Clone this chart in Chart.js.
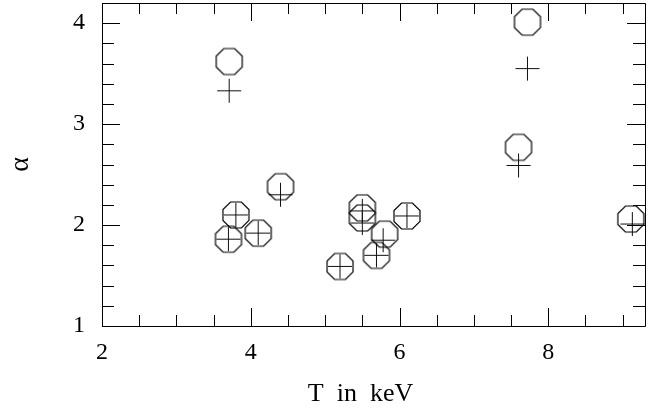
<!DOCTYPE html>
<html lang="en">
<head>
    <meta charset="UTF-8">
    <title>alpha vs T</title>
    <script src="https://cdn.jsdelivr.net/npm/chart.js"></script>
    <style>
        body {
            margin: 0;
            background: #fff;
        }
        canvas {
            display: block;
        }
    </style>
</head>
<body>
    <canvas id="alphaChart" width="654" height="412"></canvas>
    <script>
        // Values (T in keV, alpha)
        const octT     = [3.71, 7.72, 7.60, 4.40, 3.80, 3.70, 4.10, 5.20, 5.50, 5.50, 5.80, 5.69, 6.10, 9.11];
        const octAlpha = [3.62, 4.01, 2.77, 2.38, 2.10, 1.86, 1.92, 1.59, 2.17, 2.07, 1.91, 1.70, 2.09, 2.06];

        const plusT     = [3.71, 7.72, 7.60, 4.40, 3.80, 3.70, 4.10, 5.20, 5.50, 5.50, 5.78, 5.69, 6.10, 9.13];
        const plusAlpha = [3.33, 3.55, 2.59, 2.30, 2.10, 1.86, 1.92, 1.59, 2.14, 2.02, 1.85, 1.70, 2.09, 2.01];

        const xLabels = [2, 4, 6, 8];
        const yLabels = [1, 2, 3, 4];

        const toPoints = (xs, ys) => xs.map((x, i) => ({ x: x, y: ys[i] }));

        // octagon marker, flat sides up/down
        function makeOctagon() {
            const c = document.createElement('canvas');
            c.width = 32;
            c.height = 32;
            const g = c.getContext('2d');
            const r = 13 / Math.cos(Math.PI / 8);
            g.strokeStyle = '#000';
            g.lineWidth = 1.2;
            g.beginPath();
            for (let k = 0; k < 8; k++) {
                const a = Math.PI / 8 + k * Math.PI / 4;
                const px = 16 + r * Math.cos(a);
                const py = 16 + r * Math.sin(a);
                if (k === 0) g.moveTo(px, py); else g.lineTo(px, py);
            }
            g.closePath();
            g.stroke();
            return c;
        }

        // frame + inward ticks on all four sides
        const frameTicks = {
            id: 'frameTicks',
            afterDraw(chart) {
                const ctx = chart.ctx;
                const a = chart.chartArea;
                const xs = chart.scales.x;
                const ys = chart.scales.y;
                ctx.save();
                ctx.strokeStyle = '#000';
                ctx.lineWidth = 1;
                ctx.beginPath();
                ctx.rect(Math.round(a.left) + 0.5, Math.round(a.top) + 0.5,
                    Math.round(a.right - a.left), Math.round(a.bottom - a.top));
                ctx.stroke();

                ctx.beginPath();
                for (let v = 2; v <= 9.3; v += 0.5) {
                    const px = Math.round(xs.getPixelForValue(v)) + 0.5;
                    const len = (Math.abs(v % 2) < 1e-6) ? 18 : 11;
                    ctx.moveTo(px, a.bottom);
                    ctx.lineTo(px, a.bottom - len);
                    ctx.moveTo(px, a.top);
                    ctx.lineTo(px, a.top + len);
                }
                for (let i = 0; i <= 16; i++) {
                    const v = 1 + i * 0.2;
                    const py = Math.round(ys.getPixelForValue(v)) + 0.5;
                    const len = (i % 5 === 0) ? 18 : 12;
                    ctx.moveTo(a.left, py);
                    ctx.lineTo(a.left + len, py);
                    ctx.moveTo(a.right, py);
                    ctx.lineTo(a.right - len, py);
                }
                ctx.stroke();
                ctx.restore();
            }
        };

        // keep the label overhang from pushing the plot box around
        function noPad(scale) {
            scale.paddingTop = 0;
            scale.paddingBottom = 0;
            scale.paddingLeft = 0;
            scale.paddingRight = 0;
        }

        const serif = "'Liberation Serif', 'DejaVu Serif', serif";

        new Chart(document.getElementById('alphaChart'), {
            type: 'scatter',
            data: {
                datasets: [{
                    label: 'octagons',
                    data: toPoints(octT, octAlpha),
                    pointStyle: makeOctagon(),
                    pointRadius: 13
                }, {
                    label: 'pluses',
                    data: toPoints(plusT, plusAlpha),
                    pointStyle: 'cross',
                    pointRadius: 12,
                    borderColor: '#111',
                    borderWidth: 1
                }]
            },
            options: {
                responsive: false,
                animation: false,
                devicePixelRatio: 1,
                events: [],
                layout: {
                    autoPadding: false,
                    padding: { left: 0, right: 9, top: 3, bottom: 0 }
                },
                plugins: {
                    legend: { display: false },
                    tooltip: { enabled: false }
                },
                scales: {
                    x: {
                        type: 'linear',
                        min: 2,
                        max: 9.3,
                        grid: { display: false, drawTicks: false },
                        border: { display: false },
                        ticks: {
                            stepSize: 2,
                            includeBounds: false,
                            padding: 12,
                            color: '#000',
                            font: { family: serif, size: 24 },
                            callback: v => xLabels.includes(v) ? String(v) : ''
                        },
                        title: {
                            display: true,
                            text: 'T  in  keV    ',
                            color: '#000',
                            padding: { top: 0, bottom: 2 },
                            font: { family: serif, size: 26 }
                        },
                        afterFit(scale) { scale.height = 86; noPad(scale); }
                    },
                    y: {
                        type: 'linear',
                        min: 1,
                        max: 4.2,
                        grid: { display: false, drawTicks: false },
                        border: { display: false },
                        ticks: {
                            stepSize: 1,
                            includeBounds: false,
                            padding: 17,
                            color: '#000',
                            font: { family: serif, size: 24 },
                            callback: v => yLabels.includes(v) ? String(v) : ''
                        },
                        title: {
                            display: true,
                            text: 'α',
                            color: '#000',
                            padding: { top: 4, bottom: 0 },
                            font: { family: serif, size: 28 }
                        },
                        afterFit(scale) { scale.width = 102; noPad(scale); }
                    }
                }
            },
            plugins: [frameTicks]
        });
    </script>
</body>
</html>
